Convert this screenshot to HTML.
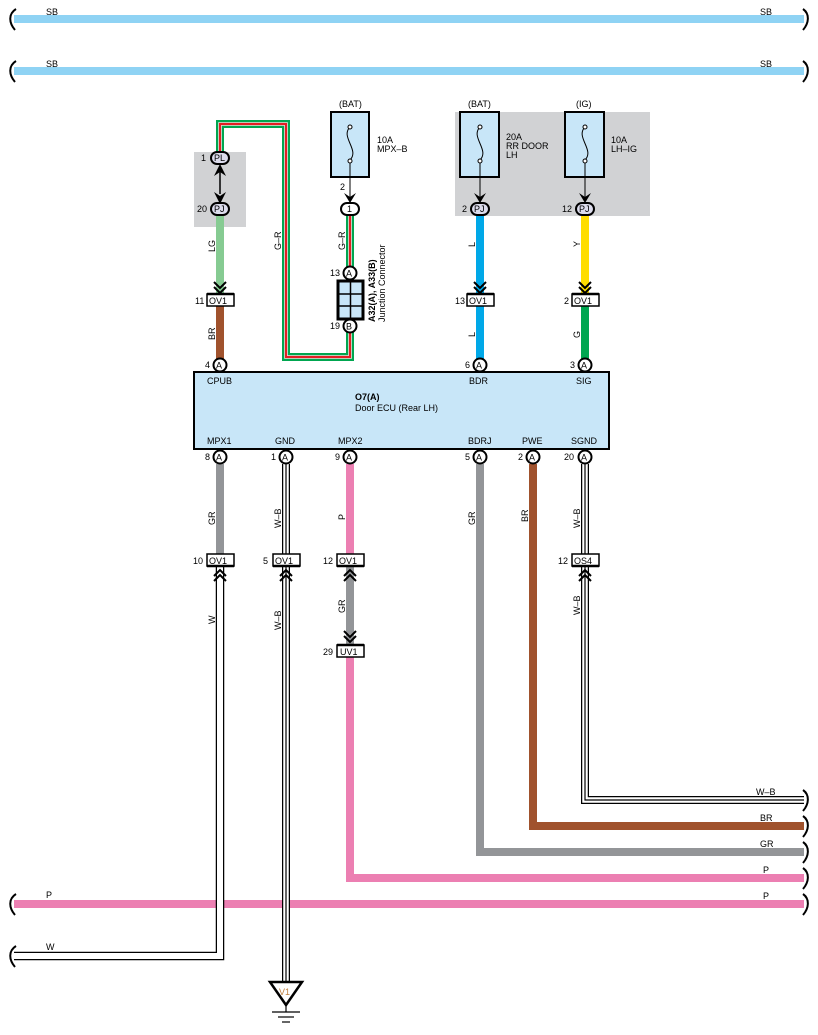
<!DOCTYPE html>
<html><head><meta charset="utf-8"><style>
html,body{margin:0;padding:0;background:#fff}
svg{display:block}
text{font-family:"Liberation Sans",sans-serif;font-size:9px;fill:#000}
</style></head><body>
<svg width="818" height="1035" viewBox="0 0 818 1035" xmlns="http://www.w3.org/2000/svg">
<defs>
<g id="brL"><path d="M3,-10 C-5,-5 -4,4 2,11" fill="none" stroke="#000" stroke-width="2"/></g>
<g id="brR"><path d="M-2,-10 C5,-5 4,4 -2,11" fill="none" stroke="#000" stroke-width="2"/></g>
</defs>
<!-- SB lines -->
<rect x="14" y="15" width="790" height="8" fill="#8fd3f4"/>
<rect x="14" y="67" width="790" height="8" fill="#8fd3f4"/>
<use href="#brL" x="13" y="19"/><use href="#brR" x="805" y="19"/>
<use href="#brL" x="13" y="71"/><use href="#brR" x="805" y="71"/>
<text x="46" y="15">SB</text><text x="760" y="15">SB</text>
<text x="46" y="67">SB</text><text x="760" y="67">SB</text>

<!-- gray boxes -->
<rect x="194" y="152" width="52" height="75" fill="#d1d2d4"/>
<rect x="455" y="112" width="195" height="104" fill="#d1d2d4"/>

<!-- G-R loop -->
<path d="M220,152 V124 H286 V357 H350 V209" fill="none" stroke="#00a650" stroke-width="8"/>
<path d="M220,152 V124 H286 V357 H350 V209" fill="none" stroke="#fff" stroke-width="3.5"/>
<path d="M220,152 V124 H286 V357 H350 V209" fill="none" stroke="#e31e24" stroke-width="2.2"/>

<!-- LG / BR left -->
<rect x="216" y="216" width="8" height="80" fill="#86cb92"/>
<rect x="216" y="306" width="8" height="55" fill="#a0522d"/>
<!-- L and Y -->
<rect x="476" y="216" width="8" height="80" fill="#00a8e8"/>
<rect x="476" y="306" width="8" height="55" fill="#00a8e8"/>
<rect x="581" y="216" width="8" height="80" fill="#ffdd00"/>
<rect x="581" y="306" width="8" height="55" fill="#00a650"/>

<!-- PL-PJ double arrow -->
<line x1="220" y1="170" x2="220" y2="194" stroke="#000" stroke-width="1.5"/>
<path d="M214,176 L220,164 L226,176 L220,172Z" fill="#000"/>
<path d="M214,192 L220,204 L226,192 L220,196Z" fill="#000"/>

<!-- fuses -->
<g fill="#c8e6f8" stroke="#000" stroke-width="2">
<rect x="331" y="112" width="38" height="65"/>
<rect x="460" y="112" width="39" height="65"/>
<rect x="565" y="112" width="39" height="65"/>
</g>
<g fill="none" stroke="#000" stroke-width="1">
<path d="M350,127 C340,137 360,150 350,160"/><circle cx="350" cy="127" r="2" fill="#fff"/><circle cx="350" cy="161" r="2" fill="#fff"/>
<path d="M480,127 C470,137 490,150 480,160"/><circle cx="480" cy="127" r="2" fill="#fff"/><circle cx="480" cy="161" r="2" fill="#fff"/>
<path d="M585,127 C575,137 595,150 585,160"/><circle cx="585" cy="127" r="2" fill="#fff"/><circle cx="585" cy="161" r="2" fill="#fff"/>
<line x1="350" y1="163" x2="350" y2="200"/>
<line x1="480" y1="163" x2="480" y2="200"/>
<line x1="585" y1="163" x2="585" y2="200"/>
</g>
<path d="M344,193 L350,203 L356,193 L350,197Z" fill="#000"/>
<path d="M474,193 L480,203 L486,193 L480,197Z" fill="#000"/>
<path d="M579,193 L585,203 L591,193 L585,197Z" fill="#000"/>
<text x="339" y="107">(BAT)</text><text x="377" y="143">10A</text><text x="377" y="152">MPX–B</text>
<text x="468" y="107">(BAT)</text><text x="506" y="140">20A</text><text x="506" y="149">RR DOOR</text><text x="506" y="158">LH</text>
<text x="576" y="107">(IG)</text><text x="611" y="143">10A</text><text x="611" y="152">LH–IG</text>

<!-- ovals PL/PJ/1 -->
<g fill="#fff" stroke="#000" stroke-width="2">
<rect x="211" y="152" width="18" height="12" rx="6" fill="#dcdcec"/>
<rect x="211" y="203" width="18" height="12" rx="6" fill="#dcdcec"/>
<rect x="341" y="203" width="18" height="12" rx="6"/>
<rect x="471" y="203" width="18" height="12" rx="6" fill="#dcdcec"/>
<rect x="576" y="203" width="18" height="12" rx="6" fill="#dcdcec"/>
</g>
<text x="214" y="161">PL</text><text x="201" y="161">1</text>
<text x="214" y="212">PJ</text><text x="197" y="212">20</text>
<text x="347" y="212">1</text><text x="340" y="190">2</text>
<text x="474" y="212">PJ</text><text x="462" y="212">2</text>
<text x="579" y="212">PJ</text><text x="562" y="212">12</text>

<!-- junction connector -->
<rect x="338" y="281" width="25" height="38" fill="#c8e6f8" stroke="#000" stroke-width="3"/>
<line x1="350.5" y1="281" x2="350.5" y2="319" stroke="#000" stroke-width="1.5"/>
<line x1="338" y1="294" x2="363" y2="294" stroke="#000" stroke-width="1.5"/>
<line x1="338" y1="306" x2="363" y2="306" stroke="#000" stroke-width="1.5"/>
<g fill="#fff" stroke="#000" stroke-width="2">
<circle cx="350" cy="273" r="6.5"/><circle cx="350" cy="326" r="6.5"/>
</g>
<text x="346" y="276.5">A</text><text x="346" y="329.5">B</text>
<text x="330" y="276">13</text><text x="330" y="329">19</text>
<text transform="translate(375,322) rotate(-90)" font-weight="bold">A32(A), A33(B)</text>
<text transform="translate(385,322) rotate(-90)">Junction Connector</text>

<!-- chevrons top OV1 -->
<g fill="none" stroke="#000" stroke-width="2">
<path d="M214,282 L220,288 L226,282 M214,287 L220,293 L226,287"/>
<path d="M474,282 L480,288 L486,282 M474,287 L480,293 L486,287"/>
<path d="M579,282 L585,288 L591,282 M579,287 L585,293 L591,287"/>
</g>
<g fill="#fff" stroke="#000" stroke-width="1.5">
<rect x="207" y="294" width="27" height="12"/><rect x="467" y="294" width="27" height="12"/><rect x="572" y="294" width="27" height="12"/>
</g>
<g stroke="#000" stroke-width="2.5"><line x1="207" y1="294" x2="234" y2="294"/><line x1="467" y1="294" x2="494" y2="294"/><line x1="572" y1="294" x2="599" y2="294"/></g>
<text x="209" y="304">OV1</text><text x="469" y="304">OV1</text><text x="574" y="304">OV1</text>
<text x="195" y="304">11</text><text x="455" y="304">13</text><text x="564" y="304">2</text>

<!-- wire labels top -->
<text transform="translate(215,252) rotate(-90)">LG</text>
<text transform="translate(215,340) rotate(-90)">BR</text>
<text transform="translate(281,250) rotate(-90)">G–R</text>
<text transform="translate(345,250) rotate(-90)">G–R</text>
<text transform="translate(475,247) rotate(-90)">L</text>
<text transform="translate(475,337) rotate(-90)">L</text>
<text transform="translate(580,247) rotate(-90)">Y</text>
<text transform="translate(580,338) rotate(-90)">G</text>

<!-- ECU -->
<rect x="194" y="372" width="415" height="77" fill="#c8e6f8" stroke="#000" stroke-width="2"/>
<text x="207" y="384">CPUB</text><text x="469" y="384">BDR</text><text x="576" y="384">SIG</text>
<text x="355" y="400" font-weight="bold">O7(A)</text><text x="355" y="411">Door ECU (Rear LH)</text>
<text x="207" y="444">MPX1</text><text x="275" y="444">GND</text><text x="338" y="444">MPX2</text>
<text x="468" y="444">BDRJ</text><text x="522" y="444">PWE</text><text x="571" y="444">SGND</text>

<!-- bottom wires -->
<rect x="216" y="464" width="8" height="90" fill="#939598"/>
<path d="M350,464 V878 H804" fill="none" stroke="#ec7fb2" stroke-width="8"/>
<rect x="346" y="566" width="8" height="78" fill="#939598"/>
<path d="M480,464 V852 H804" fill="none" stroke="#939598" stroke-width="8"/>
<path d="M533,464 V826 H804" fill="none" stroke="#a0522d" stroke-width="8"/>
<path d="M585,464 V800 H804" fill="none" stroke="#000" stroke-width="8"/>
<path d="M585,464 V800 H804" fill="none" stroke="#fff" stroke-width="5.5"/>
<path d="M585,464 V800 H804" fill="none" stroke="#000" stroke-width="1.2"/>
<rect x="14" y="900" width="790" height="8" fill="#ec7fb2"/>
<path d="M14,956 H220 V566" fill="none" stroke="#000" stroke-width="8.5"/>
<path d="M14,956 H220 V566" fill="none" stroke="#fff" stroke-width="6"/>
<path d="M286,464 V986" fill="none" stroke="#000" stroke-width="8"/>
<path d="M286,464 V986" fill="none" stroke="#fff" stroke-width="5.5"/>
<path d="M286,464 V986" fill="none" stroke="#000" stroke-width="1.2"/>

<use href="#brL" x="13" y="904"/><use href="#brL" x="13" y="956"/>
<use href="#brR" x="805" y="800"/><use href="#brR" x="805" y="826"/><use href="#brR" x="805" y="852"/><use href="#brR" x="805" y="878"/><use href="#brR" x="805" y="904"/>
<text x="46" y="898">P</text><text x="46" y="950">W</text>
<text x="756" y="795">W–B</text><text x="760" y="821">BR</text><text x="760" y="847">GR</text><text x="763" y="873">P</text><text x="763" y="899">P</text>

<!-- pins -->
<g fill="#fff" stroke="#000" stroke-width="2">
<circle cx="220" cy="365" r="6.5"/><circle cx="480" cy="365" r="6.5"/><circle cx="585" cy="365" r="6.5"/>
<circle cx="220" cy="457" r="6.5"/><circle cx="286" cy="457" r="6.5"/><circle cx="350" cy="457" r="6.5"/>
<circle cx="480" cy="457" r="6.5"/><circle cx="533" cy="457" r="6.5"/><circle cx="585" cy="457" r="6.5"/>
</g>
<text x="216" y="368.5">A</text><text x="476" y="368.5">A</text><text x="581" y="368.5">A</text>
<text x="205" y="368">4</text><text x="465" y="368">6</text><text x="570" y="368">3</text>
<text x="216" y="460.5">A</text><text x="282" y="460.5">A</text><text x="346" y="460.5">A</text>
<text x="476" y="460.5">A</text><text x="529" y="460.5">A</text><text x="581" y="460.5">A</text>
<text x="205" y="460">8</text><text x="271" y="460">1</text><text x="335" y="460">9</text>
<text x="465" y="460">5</text><text x="518" y="460">2</text><text x="564" y="460">20</text>

<!-- bottom connectors -->
<g fill="#fff" stroke="#000" stroke-width="1.5">
<rect x="207" y="554" width="27" height="12"/><rect x="273" y="554" width="27" height="12"/><rect x="337" y="554" width="27" height="12"/><rect x="572" y="554" width="27" height="12"/>
<rect x="337" y="645" width="27" height="12"/>
</g>
<g stroke="#000" stroke-width="2.5"><line x1="207" y1="566" x2="234" y2="566"/><line x1="273" y1="566" x2="300" y2="566"/><line x1="337" y1="566" x2="364" y2="566"/><line x1="572" y1="566" x2="599" y2="566"/><line x1="337" y1="645" x2="364" y2="645"/></g>
<text x="209" y="564">OV1</text><text x="275" y="564">OV1</text><text x="339" y="564">OV1</text><text x="574" y="564">OS4</text><text x="340" y="655">UV1</text>
<text x="193" y="564">10</text><text x="263" y="564">5</text><text x="323" y="564">12</text><text x="558" y="564">12</text><text x="323" y="655">29</text>
<g fill="none" stroke="#000" stroke-width="2">
<path d="M214,576 L220,570 L226,576 M214,581 L220,575 L226,581"/>
<path d="M280,576 L286,570 L292,576 M280,581 L286,575 L292,581"/>
<path d="M344,576 L350,570 L356,576 M344,581 L350,575 L356,581"/>
<path d="M579,576 L585,570 L591,576 M579,581 L585,575 L591,581"/>
<path d="M344,631 L350,637 L356,631 M344,636 L350,642 L356,636"/>
</g>
<text transform="translate(215,525) rotate(-90)">GR</text>
<text transform="translate(281,528) rotate(-90)">W–B</text>
<text transform="translate(345,520) rotate(-90)">P</text>
<text transform="translate(475,525) rotate(-90)">GR</text>
<text transform="translate(528,522) rotate(-90)">BR</text>
<text transform="translate(580,528) rotate(-90)">W–B</text>
<text transform="translate(215,624) rotate(-90)">W</text>
<text transform="translate(281,630) rotate(-90)">W–B</text>
<text transform="translate(345,613) rotate(-90)">GR</text>
<text transform="translate(580,615) rotate(-90)">W–B</text>

<!-- ground -->
<path d="M270,982 L302,982 L286,1005Z" fill="#fff" stroke="#000" stroke-width="2.5"/>
<text x="279" y="995" style="fill:#c08040">V1</text>
<g stroke="#000" stroke-width="1.2">
<line x1="286" y1="1005" x2="286" y2="1012"/>
<line x1="272" y1="1012" x2="300" y2="1012"/>
<line x1="278" y1="1017" x2="294" y2="1017"/>
<line x1="282" y1="1022" x2="290" y2="1022"/>
</g>
</svg>
</body></html>
